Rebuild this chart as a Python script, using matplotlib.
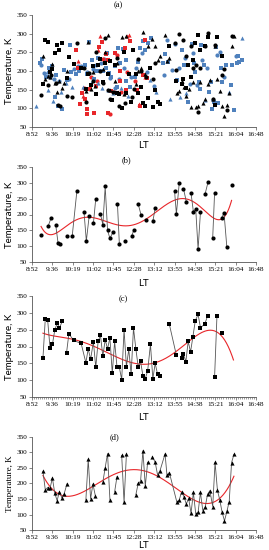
import numpy as np
import matplotlib
matplotlib.use("Agg")
import matplotlib.pyplot as plt
from matplotlib.ticker import FixedLocator, AutoMinorLocator

# ---------------- data ----------------
tick_days = [0.37, 0.40, 0.43, 0.46, 0.49, 0.52, 0.55, 0.58, 0.61, 0.64, 0.67, 0.70]
tick_labels = ["8:52", "9:36", "10:19", "11:02", "11:45", "12:28", "13:12",
               "13:55", "14:38", "15:21", "16:04", "16:48"]
y_ticks = [50, 100, 150, 200, 250, 300, 350]

# (b) circles
b_times = ["9:12", "9:27", "9:33", "9:43", "9:48", "9:53", "10:08", "10:18", "10:28",
           "10:43", "10:48", "10:54", "11:03", "11:08", "11:18", "11:23", "11:28", "11:33",
           "11:38", "11:44", "11:54", "11:58", "12:10", "12:24", "12:29", "12:38", "12:44",
           "12:54", "13:09", "13:14", "13:55", "13:59", "14:05", "14:14", "14:20", "14:30",
           "14:35", "14:40", "14:45", "14:50", "15:00", "15:06", "15:16", "15:20", "15:35",
           "15:40", "15:46", "15:56"]
b_temps = [135, 163, 188, 168, 110, 105, 133, 131, 275, 209, 116, 195, 172, 250, 201, 168,
           289, 150, 124, 143, 234, 107, 115, 131, 152, 233, 199, 184, 178, 220, 276, 202,
           299, 282, 241, 268, 209, 217, 90, 207, 266, 302, 126, 269, 189, 205, 96, 294]
b_runs = [1, 2, 3, 1, 2, 3, 2, 6, 2, 1, 2, 2, 1, 2, 3, 2, 5, 2, 2, 3, 1]

# (c) squares
c_times = ["9:16", "9:21", "9:26", "9:31", "9:36", "9:41", "9:46", "9:51", "9:57",
           "10:06", "10:11", "10:21", "10:37", "10:47", "10:52", "10:57", "11:03", "11:08",
           "11:13", "11:18", "11:23", "11:28", "11:33", "11:38", "11:43", "11:48", "11:53",
           "11:58", "12:03", "12:08", "12:13", "12:18", "12:23", "12:28", "12:33", "12:38",
           "12:43", "12:48", "12:53", "12:58", "13:04", "13:09", "13:14", "13:19", "13:24",
           "13:44", "13:59",
           "14:10", "14:14", "14:19", "14:24", "14:29", "14:34", "14:39", "14:45", "14:50",
           "14:59", "15:05",
           "15:20", "15:25",
           "15:36"]
c_temps = [166, 283, 278, 196, 206, 248, 269, 255, 275,
           181, 238, 218, 209, 152, 193, 162, 214, 138, 215, 233, 171, 220, 193, 226, 121,
           215, 140, 138, 102, 250, 140, 192, 117, 255, 193, 140, 156, 113, 105, 127, 207,
           104, 150, 118, 112,
           266, 174,
           166, 178, 155, 215, 184, 229, 276, 295, 256, 266, 290,
           110, 290,
           240]
c_runs = [9, 36, 2, 11, 2, 1]

# (d) triangles
d_times = ["9:16", "9:21", "9:26", "9:31", "9:36", "9:41", "9:46", "9:51", "9:56", "10:01",
           "10:07",
           "10:47", "10:52", "10:57", "11:02", "11:07",
           "11:23", "11:28", "11:33", "11:38",
           "11:48", "11:53",
           "12:03", "12:08", "12:13",
           "12:33", "12:38", "12:43", "12:48", "12:53", "12:58",
           "13:08", "13:14", "13:19", "13:24", "13:35", "13:39", "13:44", "14:00", "14:05",
           "14:10", "14:15", "14:20", "14:25", "14:30", "14:35", "14:40", "14:45", "14:50",
           "14:55", "15:00", "15:05", "15:10", "15:16", "15:21", "15:26", "15:31", "15:36",
           "15:41", "15:46", "15:51", "15:56", "16:01"]
d_temps = [239, 179, 187, 184, 218, 169, 145, 174, 154, 167, 199,
           147, 277, 151, 198, 161,
           204, 251, 296, 148,
           173, 222,
           290, 139, 294,
           164, 200, 207, 305, 191, 268,
           286, 268, 228, 240, 295, 226, 235, 140, 147, 173, 158, 134, 152, 104, 171, 103,
           107, 171, 113, 124, 165, 177, 126, 268, 178, 147, 107, 80, 110, 142, 267, 293]
d_runs = [11, 5, 4, 2, 3, 6, 32]

# trend-line polynomial orders
b_order, c_order, d_order = 6, 5, 4

# (a) extra series (decimal hours)
red_hours = [10.45, 10.49, 10.52, 10.59, 10.64, 10.67, 10.70, 10.76, 10.81, 10.82, 10.93,
             10.96, 11.06, 11.14, 11.17, 11.23, 11.26, 11.30, 11.34, 11.40, 11.50, 11.56,
             11.56, 11.62, 11.68, 11.77, 11.83, 11.88, 11.92, 11.98, 12.00, 12.04, 12.15,
             12.19, 12.23, 12.25, 12.31, 12.33, 12.53, 12.59, 12.67, 12.69, 12.81, 12.89,
             12.89, 12.93]
red_temps = [255, 227, 208, 111, 140, 133, 154, 124, 97, 85, 151, 184, 87, 161, 174, 255,
             264, 294, 278, 231, 244, 228, 88, 85, 146, 144, 247, 243, 143, 173, 199, 145,
             261, 148, 198, 293, 297, 279, 172, 149, 112, 105, 190, 284, 184, 181]
red_marks = list("s^sss^osss" + "sosso^s^so" + "sssososo^s" + "sosso^^sos" + "^sss^s")

blue_hours = [9.02, 9.15, 9.21, 9.24, 9.30, 9.36, 9.42, 9.45, 9.48, 9.53, 9.59, 9.63, 9.65,
              9.71, 9.74, 9.81, 9.83, 9.89, 9.95, 10.02, 10.07, 10.13, 10.19, 10.23, 10.25,
              10.31, 10.37, 10.43, 10.49, 10.55, 10.61, 10.67, 10.69, 10.76, 10.81, 10.84,
              10.90, 10.96, 11.00, 11.05, 11.08, 11.12, 11.14, 11.20, 11.21, 11.26, 11.32,
              11.36, 11.40, 11.44, 11.50, 11.52, 11.56, 11.59, 11.62, 11.68, 11.74, 11.80,
              11.83, 11.88, 11.92, 11.95, 12.00, 12.04, 12.09, 12.12, 12.19, 12.21, 12.27,
              12.33, 12.39, 12.45, 12.51, 12.57, 12.63, 12.69, 12.75, 12.81, 12.87, 12.93,
              12.99, 13.05, 13.08, 13.19, 13.25, 13.34, 13.50, 13.55, 13.58, 13.64, 13.70,
              13.76, 13.82, 13.94, 14.00, 14.06, 14.12, 14.18, 14.24, 14.30, 14.33, 14.38,
              14.45, 14.53, 14.57, 14.59, 14.65, 14.71, 14.77, 14.83, 14.87, 14.90, 14.95,
              14.99, 15.07, 15.13, 15.19, 15.25, 15.28, 15.31, 15.37, 15.43, 15.45, 15.52,
              15.55, 15.61, 15.67, 15.73, 15.84, 15.90, 15.96, 16.02, 16.08, 16.14, 16.17,
              16.21, 16.29, 16.29]
blue_temps = [107, 221, 215, 232, 194, 185, 196, 149, 208, 183, 214, 120, 178, 130, 190,
              106, 172, 145, 97, 203, 167, 175, 178, 270, 198, 158, 206, 192, 212, 201, 214,
              208, 158, 217, 198, 193, 277, 167, 230, 205, 178, 199, 216, 235, 167, 199, 221,
              154, 201, 232, 208, 248, 149, 195, 181, 185, 140, 214, 154, 158, 261, 178, 221,
              154, 259, 208, 172, 230, 132, 158, 185, 257, 185, 208, 223, 261, 248, 279, 257,
              196, 275, 176, 287, 160, 144, 119, 220, 189, 244, 283, 225, 126, 202, 272, 175,
              207, 131, 256, 216, 234, 140, 117, 166, 271, 247, 220, 198, 162, 171, 153, 270,
              229, 216, 122, 207, 144, 171, 99, 122, 117, 265, 243, 113, 252, 207, 171, 184,
              216, 144, 162, 216, 95, 239, 221, 241, 224, 230, 288]
blue_marks = list("^sosos^^so" + "s^ossso^ss" + "^soss^osos" + "os^soss^so" + "ssos^so^so"
                  + "ss^sos^sos" + "sos^soss^s" + "ossossosso" + "s^so^^soso" + "s^ooso^sso"
                  + "^sosossoss" + "sos^osssos" + "sosossos^s" + "ssossss^")

# ---------------- helpers ----------------
def to_day(t):
    h, m = t.split(":")
    return (int(h) + int(m) / 60.0) / 24.0


def segments(xs, ys, runs):
    i = 0
    for r in runs:
        yield xs[i:i + r], ys[i:i + r]
        i += r


SERIF = ["Liberation Serif", "DejaVu Serif"]
SANS = ["Lato", "DejaVu Sans"]
RED = "#e8262a"
BLUE = "#4f81bd"

fig = plt.figure(figsize=(2.69, 5.50), dpi=100)
left, width = 0.119, 0.833
boxes = {"a": (0.769, 0.204), "b": (0.524, 0.172), "c": (0.278, 0.184), "d": (0.036, 0.170)}
title_pos = {"a": (118, 5), "b": (126, 160), "c": (123, 299), "d": (115, 437)}
label_y = {"a": 145, "b": 283, "c": 418, "d": 545}


def style(ax, key, minor=False):
    ax.set_xlim(0.37, 0.70)
    ax.set_ylim(50, 350)
    ax.xaxis.set_major_locator(FixedLocator(tick_days))
    ax.set_xticklabels(tick_labels)
    ax.yaxis.set_major_locator(FixedLocator(y_ticks))
    if minor:
        ax.xaxis.set_minor_locator(AutoMinorLocator(10))
        ax.tick_params(axis="x", which="minor", length=1.2, width=0.4, color="#555555")
    for s in ("top", "right"):
        ax.spines[s].set_visible(False)
    for s in ("left", "bottom"):
        ax.spines[s].set_linewidth(0.6)
        ax.spines[s].set_color("#555555")
    ax.tick_params(axis="both", which="major", length=2, width=0.5, color="#555555",
                   pad=1.5, labelsize=5.2)
    for lab in ax.get_xticklabels() + ax.get_yticklabels():
        lab.set_family(SERIF)
    fam = SERIF if key == "d" else SANS
    ax.set_ylabel("Temperature, K", family=fam, fontsize=7 if key != "d" else 6.5, labelpad=2)
    tx, ty = title_pos[key]
    fig.text(tx / 269, 1 - ty / 550, "(%s)" % key, family=SERIF, fontsize=6,
             ha="center", va="center")
    fig.text(143 / 269, 1 - label_y[key] / 550, "LT", family=SANS, fontsize=7,
             ha="center", va="center")


# ---- (a)
ax = fig.add_axes([left, boxes["a"][0], width, boxes["a"][1]])
style(ax, "a")
MS = 9
ax.scatter([to_day(t) for t in b_times], b_temps, marker="o", s=MS, c="black", lw=0, zorder=3)
ax.scatter([to_day(t) for t in c_times], c_temps, marker="s", s=MS, c="black", lw=0, zorder=3)
ax.scatter([to_day(t) for t in d_times], d_temps, marker="^", s=MS, c="black", lw=0, zorder=3)
for mk in "os^":
    xs = [h / 24 for h, m in zip(blue_hours, blue_marks) if m == mk]
    ys = [t for t, m in zip(blue_temps, blue_marks) if m == mk]
    ax.scatter(xs, ys, marker=mk, s=MS, c=BLUE, lw=0, zorder=2)
    xs = [h / 24 for h, m in zip(red_hours, red_marks) if m == mk]
    ys = [t for t, m in zip(red_temps, red_marks) if m == mk]
    ax.scatter(xs, ys, marker=mk, s=MS, c=RED, lw=0, zorder=2)


def panel(key, times, temps, runs, marker, order, ext_end=None, minor=False):
    ax = fig.add_axes([left, boxes[key][0], width, boxes[key][1]])
    style(ax, key, minor)
    xs = np.array([to_day(t) for t in times])
    ys = np.array(temps, dtype=float)
    for sx, sy in segments(xs, ys, runs):
        ax.plot(sx, sy, color="#555555", lw=0.6, marker=marker, ms=3.0,
                mfc="black", mec="black", mew=0, zorder=3)
    p = np.polynomial.Polynomial.fit(xs, ys, order)
    xe = ext_end if ext_end is not None else xs.max()
    xx = np.linspace(xs.min(), xe, 300)
    ax.plot(xx, p(xx), color=RED, lw=0.8, zorder=2)
    return ax


panel("b", b_times, b_temps, b_runs, "o", b_order)
panel("c", c_times, c_temps, c_runs, "s", c_order, ext_end=16.0 / 24, minor=True)
panel("d", d_times, d_temps, d_runs, "^", d_order)

fig.savefig("out.png", dpi=100)
